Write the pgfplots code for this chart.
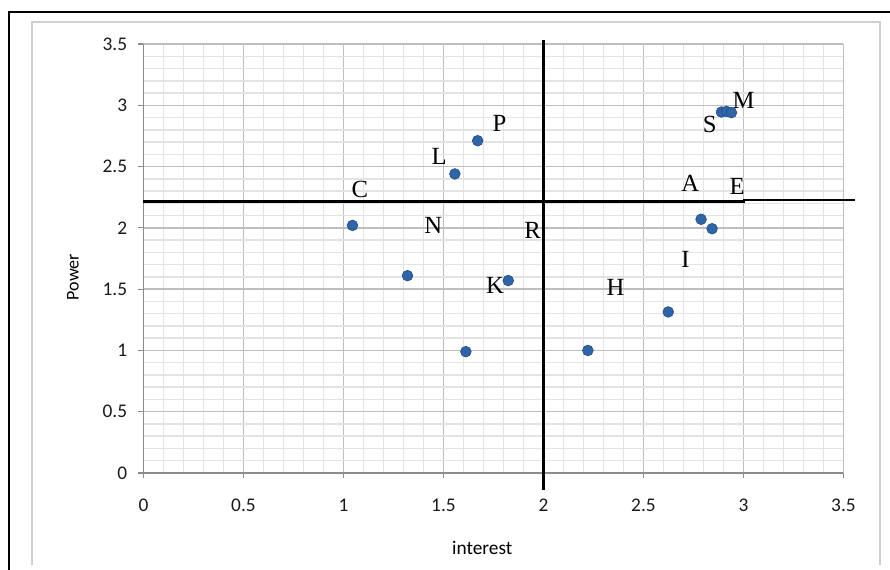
\documentclass[border=0pt]{standalone}
\usepackage{pgfplots}
\pgfplotsset{compat=1.18}
\usepackage{fontspec}
\setmainfont{Carlito}
\newfontfamily\timesf{Liberation Serif}
\definecolor{ptblue}{HTML}{2F65A7}
\definecolor{ptedge}{HTML}{24508A}
\definecolor{majgrid}{HTML}{BEBEBE}
\definecolor{mingrid}{HTML}{E3E3E3}
\definecolor{axgray}{HTML}{8C8C8C}
\definecolor{framegray}{HTML}{D0D0D0}
\newcommand{\lbl}[3]{\node[font=\timesf\fontsize{18.5}{20}\selectfont, inner sep=0pt] at (axis cs:#1,#2) {#3};}
\begin{document}
\begin{tikzpicture}
\path[use as bounding box] (-107.6pt,-72pt) rectangle (559.9pt,354.75pt);
\draw[black, line width=1.5pt] (-100.9pt,-73pt) -- (-100.9pt,345.75pt) -- (562pt,345.75pt);
\draw[framegray, line width=1.1pt] (-83.6pt,-69pt) -- (-83.6pt,338.25pt) -- (552.4pt,338.25pt) -- (552.4pt,-69pt);
\begin{axis}[
  at={(0pt,0pt)}, anchor=south west,
  scale only axis, width=525pt, height=321.75pt,
  xmin=0, xmax=3.5, ymin=0, ymax=3.5,
  xtick={0,0.5,1,1.5,2,2.5,3,3.5},
  ytick={0,0.5,1,1.5,2,2.5,3,3.5},
  minor tick num=4,
  grid=both,
  major grid style={majgrid, line width=1.1pt},
  minor grid style={mingrid, line width=1.1pt},
  axis x line=bottom, axis y line=left,
  axis line style={axgray, line width=0.9pt, -},
  tick align=outside,
  major tick length=3.75pt, minor tick length=0pt,
  tick style={axgray, line width=0.9pt},
  /pgf/number format/assume math mode=true,
  ticklabel style={font=\fontsize{14.5}{16}\selectfont, text=black!90},
  xticklabel style={yshift=-12pt},
  yticklabel style={xshift=-5pt},
  xlabel={interest}, ylabel={Power},
  every axis x label/.style={at={(axis description cs:0.484,0)}, anchor=center, yshift=-56.25pt, font=\fontsize{14.5}{16}\selectfont},
  every axis y label/.style={at={(axis description cs:0,0.457)}, anchor=center, xshift=-52.9pt, rotate=90, font=\fontsize{13.5}{15}\selectfont},
  clip=false,
]
\addplot[only marks, mark=*, mark size=4pt, mark options={fill=ptblue, draw=ptedge, line width=0.5pt}] coordinates {
  (1.045,2.02) (1.32,1.61) (1.557,2.44) (1.671,2.711) (1.824,1.57)
  (1.612,0.99) (2.222,1.0) (2.624,1.314) (2.788,2.07) (2.843,1.993)
  (2.89,2.945) (2.915,2.95) (2.94,2.94)
};
\addplot[black, line width=2.2pt] coordinates {(0,2.213) (3.01,2.213)};
\addplot[black, line width=1.8pt] coordinates {(3.0,2.225) (3.56,2.225)};
\addplot[black, line width=2.2pt] coordinates {(2.0,3.533) (2.0,-0.139)};
\lbl{1.78}{2.85}{P}
\lbl{1.479}{2.58}{L}
\lbl{1.082}{2.315}{C}
\lbl{1.449}{2.02}{N}
\lbl{1.946}{1.98}{R}
\lbl{1.758}{1.53}{K}
\lbl{2.36}{1.51}{H}
\lbl{2.71}{1.74}{I}
\lbl{2.734}{2.364}{A}
\lbl{2.968}{2.336}{E}
\lbl{2.831}{2.84}{S}
\lbl{3.001}{3.043}{M}
\end{axis}
\end{tikzpicture}
\end{document}
